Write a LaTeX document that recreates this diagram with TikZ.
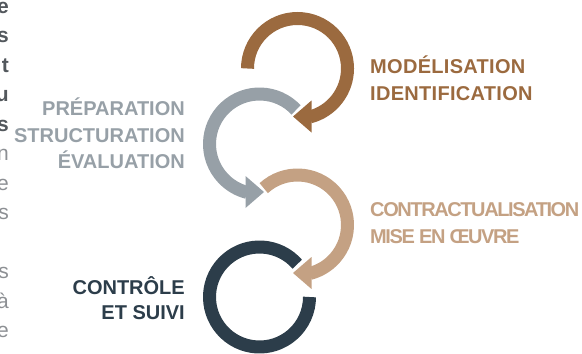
\documentclass[tikz,border=0pt]{standalone}
\usepackage{fontspec}
\setmainfont{Liberation Sans}
\usetikzlibrary{calc}
\definecolor{brownc}{HTML}{9B6A3F}
\definecolor{greyc}{HTML}{97A0A7}
\definecolor{tanc}{HTML}{C4A183}
\definecolor{darkc}{HTML}{2C3D4A}
\definecolor{fragbold}{HTML}{53585D}
\definecolor{fragreg}{HTML}{8C8F93}
\tikzset{
  ring/.style={line width=13bp},
  lab/.style={inner sep=0pt, font=\fontsize{20bp}{27bp}\selectfont\bfseries},
  labR/.style={lab, anchor=base west},
  labL/.style={lab, anchor=base east},
  frag/.style={inner sep=0pt, anchor=base east, font=\fontsize{21bp}{29.5bp}\selectfont},
  fragB/.style={frag, text=fragbold, font=\fontsize{21bp}{29.5bp}\selectfont\bfseries},
  fragR/.style={frag, text=fragreg},
}
\begin{document}
\begin{tikzpicture}[x=1bp,y=1bp]
\useasboundingbox (0,0) rectangle (582,353);
\coordinate (C1) at (297.5,284.5);
\coordinate (C2) at (259.5,209);
\coordinate (C3) at (297.5,128);
\coordinate (C4) at (259.5,56);
% dark ring
\draw[ring, darkc] ($(C4)+(41:50)$) arc[start angle=41, end angle=360, radius=50];
% tan arrow
\draw[ring, tanc] ($(C3)+(132.5:50)$) arc[start angle=132.5, end angle=-75.6, radius=50];
\fill[tanc] ($(C3)+(14,-32)$) -- ($(C3)+(-4.5,-48)$) -- ($(C3)+(14,-64)$) -- cycle;
% grey arrow
\draw[ring, greyc] ($(C2)+(43:50)$) arc[start angle=43, end angle=255.6, radius=50];
\fill[greyc] ($(C2)+(-14,-32)$) -- ($(C2)+(4.5,-48)$) -- ($(C2)+(-14,-64)$) -- cycle;
% brown arrow
\draw[ring, brownc] ($(C1)+(180:50)$) arc[start angle=180, end angle=-75.6, radius=50];
\fill[brownc] ($(C1)+(14,-32)$) -- ($(C1)+(-4.5,-48)$) -- ($(C1)+(14,-64)$) -- cycle;
% labels
\node[labR, text=brownc] (mod) at (370,280) {\addfontfeatures{LetterSpace=1.5}MODÉLISATION};
\node[labR, text=brownc] (ide) at (370,253) {\addfontfeatures{LetterSpace=1.5}IDENTIFICATION};
\node[labR, text=tanc] (con) at (370,136.5) {\addfontfeatures{LetterSpace=-7}CONTRACTUALISATION};
\node[labR, text=tanc] (mis) at (370,110) {\addfontfeatures{LetterSpace=-7}MISE EN ŒUVRE};
\node[labL, text=greyc] (pre) at (185,238) {PRÉPARATION};
\node[labL, text=greyc] (str) at (185,211) {STRUCTURATION};
\node[labL, text=greyc] (eva) at (185,184.5) {ÉVALUATION};
\node[labL, text=darkc] (ctr) at (185,59) {CONTRÔLE};
\node[labL, text=darkc] (sui) at (185,34) {ET SUIVI};
% cut-off paragraph at the left edge
\node[fragB] (f1) at (9,340) {e};
\node[fragB] (f2) at (9,310.5) {s};
\node[fragB] (f3) at (9,281) {t};
\node[fragB] (f4) at (9,251.5) {u};
\node[fragB] (f5) at (9,222) {s};
\node[fragR] (f6) at (9,192.5) {n};
\node[fragR] (f7) at (9,163) {e};
\node[fragR] (f8) at (9,133.5) {s};
\node[fragR] (f9) at (9,74.5) {s};
\node[fragR] (f10) at (9,45) {à};
\node[fragR] (f11) at (9,15.5) {e};
\end{tikzpicture}
\end{document}
